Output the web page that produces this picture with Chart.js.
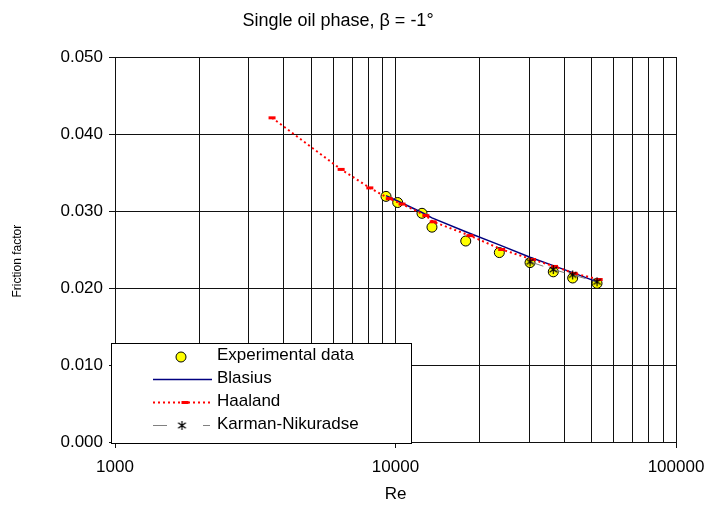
<!DOCTYPE html>
<html><head><meta charset="utf-8">
<style>html,body{margin:0;padding:0;background:#fff;}#wrap{position:relative;width:708px;height:507px;}</style>
<script src="https://cdn.jsdelivr.net/npm/chart.js@4.4.0/dist/chart.umd.min.js"></script>
</head><body><div id="wrap"><canvas id="c" width="708" height="507"></canvas></div>
<script>
const titleText = 'Single oil phase, \u03B2 = -1\u00B0';
const xTitle = 'Re';
const yTitle = 'Friction factor';
const xTickValues = [1000, 10000, 100000];
const xTickLabels = ['1000', '10000', '100000'];
const yTickLabels = ['0.000', '0.010', '0.020', '0.030', '0.040', '0.050'];
const seriesNames = ['Experimental data', 'Blasius', 'Haaland', 'Karman-Nikuradse'];

const expRe = [9250, 10180, 12430, 13490, 17800, 23450, 30170, 36520, 42820, 52300];
const expF  = [0.0319, 0.0311, 0.0297, 0.0279, 0.0261, 0.0246, 0.0233, 0.0221, 0.0213, 0.0206];

const blasRe = [9250, 10180, 12430, 13490, 17800, 23450, 30170, 36520, 42820, 52300];
const blasF  = [0.0320, 0.0313, 0.0298, 0.0291, 0.0273, 0.0256, 0.0240, 0.0229, 0.0220, 0.0208];

const haalRe = [3630, 6400, 8100, 9500, 10550, 12830, 13630, 18430, 23910, 30790, 36900, 43330, 53230];
const haalF  = [0.0421, 0.0354, 0.0330, 0.0316, 0.0309, 0.0294, 0.0286, 0.0268, 0.0250, 0.0237, 0.0228, 0.0219, 0.0211];

const karRe = [30170, 36520, 42820, 52300];
const karF  = [0.0234, 0.0224, 0.0217, 0.0208];

const FONT = "'Liberation Sans', Arial, sans-serif";

function pts(xs, ys) { return xs.map((x, i) => ({x: x, y: ys[i]})); }

// asterisk marker (x with vertical bar)
function makeAsterisk(size) {
  const cv = document.createElement('canvas');
  cv.width = size; cv.height = size;
  const c = cv.getContext('2d');
  const m = size / 2, r = size / 2 - 1;
  c.strokeStyle = '#000'; c.lineWidth = 1.2;
  c.beginPath();
  c.moveTo(m, m - r); c.lineTo(m, m + r);
  c.moveTo(m - r * 0.85, m - r * 0.6); c.lineTo(m + r * 0.85, m + r * 0.6);
  c.moveTo(m - r * 0.85, m + r * 0.6); c.lineTo(m + r * 0.85, m - r * 0.6);
  c.stroke();
  return cv;
}
const asterisk = makeAsterisk(11);

const gridXValues = [];
[1000, 10000].forEach(d => { for (let m = 1; m <= 9; m++) gridXValues.push(d * m); });
gridXValues.push(100000);

const boxLegend = {
  id: 'boxLegend',
  afterDraw(chart) {
    const ctx = chart.ctx;
    ctx.save();
    const L = 111.5, T = 343.5, R = 411.5, B = 443.5;
    ctx.fillStyle = '#fff';
    ctx.fillRect(L, T, R - L, B - T);
    ctx.strokeStyle = '#000';
    ctx.lineWidth = 1;
    ctx.strokeRect(L, T, R - L, B - T);
    const rows = [356.5, 379.5, 402.5, 425.5];
    ctx.beginPath();
    ctx.arc(181, rows[0] + 0.5, 5, 0, Math.PI * 2);
    ctx.fillStyle = '#ffff00'; ctx.fill();
    ctx.strokeStyle = '#000'; ctx.lineWidth = 1; ctx.stroke();
    ctx.beginPath();
    ctx.moveTo(153, rows[1]); ctx.lineTo(212, rows[1]);
    ctx.strokeStyle = '#000080'; ctx.lineWidth = 1.5; ctx.stroke();
    ctx.beginPath();
    ctx.setLineDash([2, 3]);
    ctx.moveTo(153, rows[2]); ctx.lineTo(212, rows[2]);
    ctx.strokeStyle = '#ff0000'; ctx.lineWidth = 2; ctx.stroke();
    ctx.setLineDash([]);
    ctx.fillStyle = '#ff0000';
    ctx.fillRect(181.5, rows[2] - 1.5, 7, 3);
    ctx.beginPath();
    ctx.moveTo(153, rows[3]); ctx.lineTo(167, rows[3]);
    ctx.moveTo(203, rows[3]); ctx.lineTo(210, rows[3]);
    ctx.strokeStyle = '#808080'; ctx.lineWidth = 1.2; ctx.stroke();
    ctx.drawImage(asterisk, 182 - 5.5, rows[3] - 5.5);
    ctx.fillStyle = '#000';
    ctx.font = '17px ' + FONT;
    ctx.textAlign = 'left';
    ctx.textBaseline = 'middle';
    seriesNames.forEach((n, i) => ctx.fillText(n, 217, rows[i] - 1));
    ctx.restore();
  }
};

new Chart(document.getElementById('c'), {
  type: 'scatter',
  data: {
    datasets: [
      { label: seriesNames[0], data: pts(expRe, expF), showLine: false,
        pointRadius: 5, pointHoverRadius: 5, pointBackgroundColor: '#ffff00',
        pointBorderColor: '#000', pointBorderWidth: 1, order: 3 },
      { label: seriesNames[1], data: pts(blasRe, blasF), showLine: true,
        borderColor: '#000080', borderWidth: 1.5, pointRadius: 0, order: 2 },
      { label: seriesNames[2], data: pts(haalRe, haalF), showLine: true,
        borderColor: '#ff0000', borderWidth: 2, borderDash: [2, 3],
        pointStyle: 'line', pointRadius: 3.5, pointBorderWidth: 3,
        pointBorderColor: '#ff0000', pointBackgroundColor: '#ff0000', order: 1 },
      { label: seriesNames[3], data: pts(karRe, karF), showLine: true,
        borderColor: '#808080', borderWidth: 1, borderDash: [14, 8],
        pointStyle: asterisk, pointRadius: 5, order: 0 }
    ]
  },
  options: {
    responsive: false,
    animation: false,
    devicePixelRatio: 1,
    layout: { padding: { left: 0, right: 32, top: 0, bottom: 0 } },
    plugins: {
      legend: { display: false },
      tooltip: { enabled: false },
      title: {
        display: true, text: titleText, color: '#000',
        font: { family: FONT, size: 18, weight: 'normal' },
        padding: { top: 10, bottom: 25.4 }
      }
    },
    scales: {
      x: {
        type: 'logarithmic', position: 'bottom', min: 1000, max: 100000,
        afterBuildTicks: s => { s.ticks = gridXValues.map(v => ({ value: v, major: xTickValues.includes(v) })); },
        afterFit: s => { s.height = 65; s.paddingLeft = 0; s.paddingRight = 0; },
        ticks: {
          autoSkip: false, maxRotation: 0, minRotation: 0, padding: 9, color: '#000',
          font: { family: FONT, size: 17 },
          callback: v => { const i = xTickValues.indexOf(v); return i >= 0 ? xTickLabels[i] : ''; }
        },
        grid: {
          color: '#111', lineWidth: 1, drawTicks: true, tickLength: 6,
          tickColor: c => (c.tick && xTickValues.includes(c.tick.value)) ? '#111' : 'rgba(0,0,0,0)'
        },
        border: { display: true, color: '#111', width: 1 },
        title: { display: true, text: xTitle, color: '#000', font: { family: FONT, size: 17 }, padding: { top: 0, bottom: 2 } }
      },
      y: {
        type: 'linear', position: 'left', min: 0, max: 0.05,
        afterFit: s => { s.width = 115; },
        ticks: {
          stepSize: 0.01, padding: 6, color: '#000',
          font: { family: FONT, size: 17 },
          callback: v => yTickLabels[Math.round(v / 0.01)]
        },
        grid: { color: '#111', lineWidth: 1, drawTicks: true, tickLength: 6, tickColor: '#111' },
        border: { display: true, color: '#111', width: 1 },
        title: { display: true, text: yTitle + '       ', color: '#000', font: { family: FONT, size: 12 }, padding: { top: 10, bottom: 0 } }
      }
    }
  },
  plugins: [boxLegend]
});
</script>
</body></html>
